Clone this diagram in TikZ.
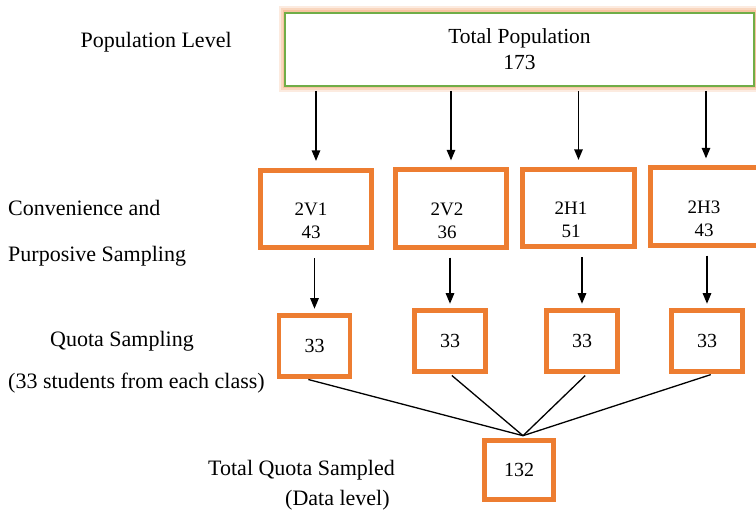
\documentclass[tikz,border=0pt]{standalone}
\usepackage{fontspec}
\setmainfont{Liberation Serif}
\usetikzlibrary{arrows.meta}

\definecolor{boxorange}{HTML}{ED7D31}
\definecolor{boxgreen}{HTML}{70AD47}
\definecolor{glow}{HTML}{F4B183}

\begin{document}
\begin{tikzpicture}[x=1pt,y=-1pt,
    lbl/.style={anchor=base west,inner sep=0pt,font=\fontsize{22}{26}\selectfont},
    sbox/.style={draw=boxorange,line width=4.8pt,fill=white,inner sep=0pt,
      minimum width=111.5pt,minimum height=77.5pt},
    qbox/.style={draw=boxorange,line width=4.8pt,fill=white,inner sep=0pt,
      minimum width=71pt,minimum height=61pt,font=\fontsize{20}{24}\selectfont},
    intxt/.style={inner sep=0pt,align=center,font=\fontsize{19}{22.6}\selectfont},
    arr/.style={-{Triangle[length=10.5pt,width=8.5pt]},line width=1.3pt},
    link/.style={line width=1.3pt}]
  \useasboundingbox (0,0) rectangle (756,519);

  % population level
  \foreach \w/\o in {13/0.25,9/0.35,5/0.5} {
    \draw[glow,line width=\w pt,opacity=\o] (285,13) rectangle (754,86);
  }
  \node[draw=boxgreen,line width=2pt,fill=white,minimum width=469pt,minimum height=73pt,
    align=center,font=\fontsize{21.5}{26}\selectfont] (pop) at (519.5,49.5) {Total Population\\173};

  % classes
  \node[sbox] (b1) at (316,209) {};
  \node[sbox] (b2) at (451,208.5) {};
  \node[sbox] (b3) at (578.5,208) {};
  \node[sbox] (b4) at (706,206.5) {};
  \node[intxt] (t1) at (311,220.6) {2V1\\43};
  \node[intxt] (t2) at (447,220.6) {2V2\\36};
  \node[intxt] (t3) at (571,220) {2H1\\51};
  \node[intxt] (t4) at (704,219) {2H3\\43};

  % quota
  \node[qbox] (c1) at (314.5,346) {33};
  \node[qbox] (c2) at (450,341) {33};
  \node[qbox] (c3) at (582,341) {33};
  \node[qbox] (c4) at (707,341) {33};

  % data level
  \node[qbox,minimum width=69pt,minimum height=59pt] (d) at (519,470) {132};
  \coordinate (jn) at ([xshift=4pt,yshift=2.4pt]d.north);

  \foreach \i in {1,...,4} {
    \draw[arr,shorten <=4pt,shorten >=7pt] (b\i.north |- pop.south) -- (b\i.north);
    \draw[arr,shorten <=8pt,shorten >=4.4pt] (c\i.north |- b\i.south) -- (c\i.north);
  }
  \draw[link,shorten <=2.4pt] ([xshift=-8.5pt]c1.south) -- (jn);
  \draw[link,shorten <=2.4pt] (c2.south) -- (jn);
  \draw[link,shorten <=2.4pt] ([xshift=5pt]c3.south) -- (jn);
  \draw[link,shorten <=2.4pt] ([xshift=6pt]c4.south) -- (jn);

  % labels on the left
  \node[lbl] (poplvl) at (80.5,47.3) {Population Level};
  \node[lbl] (conv) at (8,215) {Convenience and};
  \node[lbl] (purp) at (8,261.7) {Purposive Sampling};
  \node[lbl] (quota) at (50,346.7) {Quota Sampling};
  \node[lbl] (qnote) at (8,388) {(33 students from each class)};
  \node[lbl] (tqs) at (208,475) {Total Quota Sampled};
  \node[lbl] (dlvl) at (285,505) {(Data level)};
\end{tikzpicture}
\end{document}
